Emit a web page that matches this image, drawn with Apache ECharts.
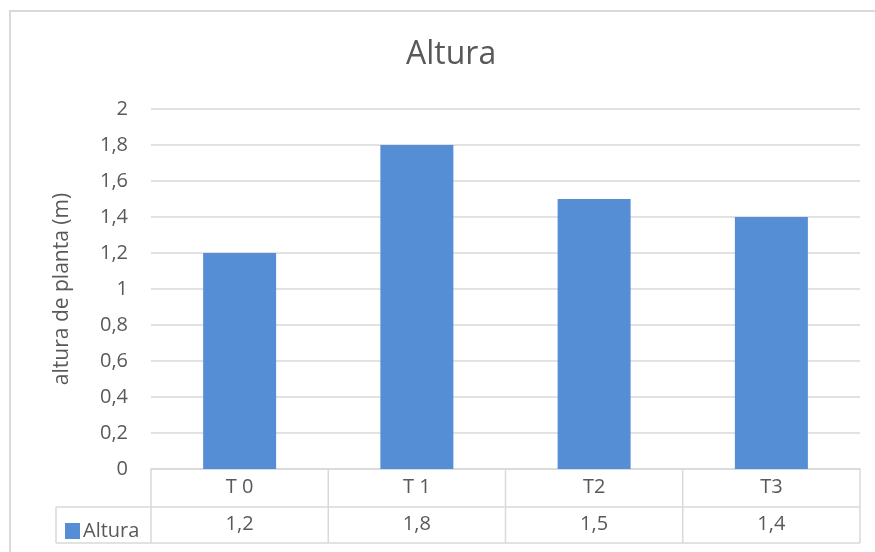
<!DOCTYPE html>
<html lang="es">
<head>
	<meta charset="utf-8" />
	<title>Altura</title>
	<style>
		html, body { margin: 0; padding: 0; background: #fff; }
		#chart { width: 875px; height: 552px; }
	</style>
</head>
<body>
	<div id="chart"></div>
	<script src="https://cdn.jsdelivr.net/npm/echarts@6/dist/echarts.min.js"></script>
	<script type="text/javascript">
		// datos
		const categories = ["T 0", "T 1", "T2", "T3"];
		const alturaValues = [1.2, 1.8, 1.5, 1.4];
		const seriesName = "Altura";
		const yTicks = { min: 0, max: 2, interval: 0.2 };

		const FONT = "Open Sans";
		const TXT = "#595959";
		const LINE = "#d9d9d9";

		// plot area (px)
		const plotL = 151, plotR = 860, plotT = 109, plotB = 469;
		const row1 = 507, row2 = 543, tableLeft = 56;

		function coma(v) {
			return String(Math.round(v * 10) / 10).replace(".", ",");
		}

		// lineas de la tabla de datos
		const tableLines = [];
		const colW = (plotR - plotL) / categories.length;
		for (let i = 0; i <= categories.length; i++) {
			const x = plotL + i * colW;
			tableLines.push({ type: "line", shape: { x1: x, y1: plotB, x2: x, y2: row2 } });
		}
		tableLines.push({ type: "line", shape: { x1: tableLeft, y1: row1, x2: plotR, y2: row1 } });
		tableLines.push({ type: "line", shape: { x1: tableLeft, y1: row2, x2: plotR, y2: row2 } });
		tableLines.push({ type: "line", shape: { x1: tableLeft, y1: row1, x2: tableLeft, y2: row2 } });
		tableLines.forEach(function (l) {
			l.style = { stroke: LINE, lineWidth: 1.5 };
			l.silent = true;
		});

		const chart = echarts.init(document.getElementById("chart"), null, { renderer: "canvas" });
		const opt = {
			animation: false,
			backgroundColor: "#fff",
			textStyle: { fontFamily: FONT, color: TXT },
			title: {
				text: "Altura",
				left: 401,
				top: 34,
				textStyle: { fontFamily: FONT, fontSize: 32, fontWeight: "normal", color: TXT }
			},
			legend: {
				data: [seriesName],
				left: 60,
				top: 516,
				icon: "rect",
				itemWidth: 15,
				itemHeight: 16,
				itemGap: 4,
				textStyle: { fontFamily: FONT, fontSize: 20, color: TXT, padding: [0, 0, 0, -2] }
			},
			grid: {
				left: plotL,
				right: 875 - plotR,
				top: plotT,
				bottom: 552 - plotB
			},
			xAxis: [{
				type: "category",
				data: categories,
				position: "bottom",
				axisLine: { show: true, lineStyle: { color: LINE, width: 1.5 } },
				axisTick: { show: false },
				axisLabel: { color: TXT, fontFamily: FONT, fontSize: 20, margin: 8 }
			}, {
				type: "category",
				data: categories,
				position: "bottom",
				offset: 37,
				axisLine: { show: false },
				axisTick: { show: false },
				axisLabel: {
					color: TXT, fontFamily: FONT, fontSize: 20, margin: 8,
					formatter: function (val, idx) { return coma(alturaValues[idx]); }
				}
			}],
			yAxis: {
				type: "value",
				min: yTicks.min,
				max: yTicks.max,
				interval: yTicks.interval,
				name: "altura de planta (m)",
				nameLocation: "middle",
				nameGap: 78,
				nameTextStyle: { fontFamily: FONT, fontSize: 21, color: TXT },
				axisLine: { show: false },
				axisTick: { show: false },
				splitLine: { lineStyle: { color: LINE, width: 1.5 } },
				axisLabel: {
					color: TXT, fontFamily: FONT, fontSize: 20, margin: 23,
					formatter: function (v) { return coma(v); }
				}
			},
			series: [{
				name: seriesName,
				type: "bar",
				xAxisIndex: 0,
				data: alturaValues,
				barWidth: 73,
				itemStyle: { color: "#558ed5" }
			}],
			graphic: [{
				type: "rect",
				shape: { x: 10, y: 11, width: 1000, height: 1000 },
				style: { fill: "none", stroke: LINE, lineWidth: 2 },
				silent: true,
				z: -1
			}].concat(tableLines)
		};
		chart.setOption(opt);
	</script>
</body>
</html>
